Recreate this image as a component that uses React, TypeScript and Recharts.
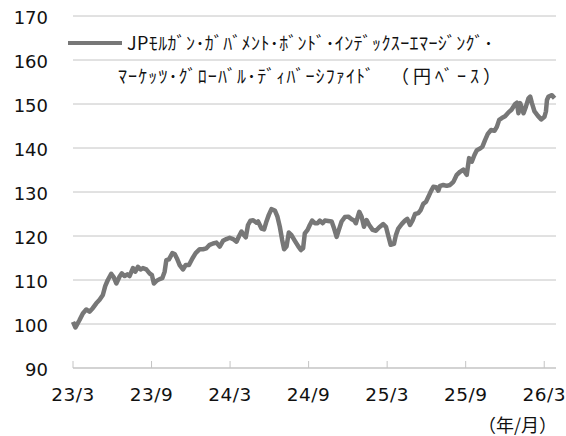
import { CartesianGrid, Line, LineChart, XAxis, YAxis } from "recharts";

// months since 2023/3
const months = [
  0, 0.19, 0.5, 0.75, 1.01, 1.26, 1.51, 1.78, 2.03, 2.28, 2.46, 2.66, 2.92, 3.12, 3.31, 3.56, 3.73, 3.94,
  4.15, 4.32, 4.58, 4.76, 4.96, 5.16, 5.34, 5.6, 5.85, 6.03, 6.18, 6.37, 6.62, 6.82, 7.0, 7.13, 7.33, 7.59,
  7.77, 7.94, 8.15, 8.4, 8.61, 8.86, 9.12, 9.37, 9.68, 9.93, 10.19, 10.44, 10.7, 10.96, 11.21, 11.46, 11.72,
  11.97, 12.23, 12.49, 12.69, 12.87, 13.05, 13.2, 13.37, 13.56, 13.76, 14.02, 14.14, 14.4, 14.6, 14.78,
  14.96, 15.16, 15.42, 15.62, 15.8, 15.98, 16.13, 16.31, 16.49, 16.69, 16.95, 17.2, 17.41, 17.58, 17.71,
  17.92, 18.09, 18.27, 18.48, 18.68, 18.86, 19.07, 19.24, 19.5, 19.76, 19.95, 20.14, 20.31, 20.52, 20.77,
  21.03, 21.29, 21.48, 21.61, 21.87, 22.05, 22.23, 22.43, 22.63, 22.89, 23.14, 23.4, 23.7, 23.91, 24.09,
  24.27, 24.52, 24.67, 24.85, 25.11, 25.36, 25.54, 25.75, 25.95, 26.13, 26.38, 26.56, 26.76, 26.97, 27.15,
  27.33, 27.53, 27.74, 27.91, 28.04, 28.29, 28.55, 28.81, 29.06, 29.32, 29.57, 29.82, 30.08, 30.26, 30.47,
  30.67, 30.85, 31.1, 31.28, 31.48, 31.69, 31.94, 32.2, 32.38, 32.56, 32.76, 33.01, 33.27, 33.5, 33.78,
  33.91, 34.03, 34.16, 34.29, 34.42, 34.6, 34.8, 34.93, 35.06, 35.26, 35.52, 35.77, 36.02, 36.13, 36.21,
  36.33, 36.59, 36.79,
];

const index = [
  100.5, 99.2, 100.9, 102.4, 103.3, 102.8, 103.6, 104.7, 105.5, 106.6, 108.6, 110, 111.4, 110.6, 109.2,
  110.8, 111.5, 110.9, 111.3, 110.9, 112.7, 111.9, 113, 112.4, 112.7, 112.4, 111.5, 111.1, 109.2, 109.8,
  110.2, 110.4, 111.9, 114.5, 114.7, 116.1, 115.9, 114.9, 113.4, 112.4, 113.4, 113.4, 114.9, 116.1, 117,
  117, 117.2, 118, 118.3, 118.5, 117.6, 118.9, 119.3, 119.6, 119.3, 118.7, 120, 121, 120.2, 119.7, 122.5,
  123.5, 123.6, 123, 123.3, 121.7, 121.5, 123.3, 124.8, 126.1, 125.8, 124.4, 122.1, 119.1, 117, 117.6,
  120.8, 120.2, 118.9, 117.7, 116.8, 117.2, 120.6, 121.4, 122.5, 123.5, 122.9, 122.9, 123.5, 122.9, 123.5,
  123.4, 123.3, 121.7, 119.8, 121.4, 123.3, 124.3, 124.4, 123.8, 123.5, 122.9, 125.5, 124.4, 122.1, 123.6,
  122.5, 121.4, 121.2, 122, 122.7, 122.1, 120, 118, 118.2, 120.2, 121.7, 122.7, 123.5, 123.9, 122.5, 123.6,
  125, 125.2, 125.9, 127.3, 127.8, 128.9, 130.1, 131.2, 131.1, 130.3, 131.4, 131.6, 131.4, 131.6, 132.3,
  133.9, 134.6, 135.1, 133.9, 137.7, 136.9, 138.4, 139.5, 139.9, 140.3, 141.8, 143.2, 144.1, 143.9, 144.8,
  146.4, 146.8, 147.2, 148.1, 148.7, 150, 150.3, 147.9, 150.2, 149.1, 147.9, 149.4, 151.3, 151.7, 150.2,
  148.3, 147.3, 146.5, 147.1, 148.3, 150.9, 151.7, 152, 151.3,
];

const xTicks = [0, 6, 12, 18, 24, 30, 36];
const xLabels = ["23/3", "23/9", "24/3", "24/9", "25/3", "25/9", "26/3"];
const yTicks = [90, 100, 110, 120, 130, 140, 150, 160, 170];

const seriesName = "JPﾓﾙｶﾞﾝ･ｶﾞﾊﾞﾒﾝﾄ･ﾎﾞﾝﾄﾞ･ｲﾝﾃﾞｯｸｽｰｴﾏｰｼﾞﾝｸﾞ･";
const seriesName2 = "ﾏｰｹｯﾂ･ｸﾞﾛｰﾊﾞﾙ･ﾃﾞｨﾊﾞｰｼﾌｧｲﾄﾞ";
const seriesName3 = "（円ﾍﾞｰｽ）";

const data = months.map((t, i) => ({ t, v: index[i] }));

const LINE = "#777777";
const GRID = "#c4c4c4";
const NUM_FONT = "'DejaVu Sans', Verdana, sans-serif";
const JP_FONT = "'Noto Sans CJK JP', sans-serif";

function XTick({ x, y, payload }: { x?: number; y?: number; payload?: { value: number; index: number } }) {
  if (x == null || y == null || !payload) return null;
  const axisY = y - 26;
  return (
    <g>
      <line x1={x} x2={x} y1={axisY} y2={axisY - 7} stroke={GRID} strokeWidth={1} />
      <text
        x={x}
        y={y}
        textAnchor="middle"
        dy="0.36em"
        fill="#111"
        fontSize={18.5}
        letterSpacing={0.5}
        fontFamily={NUM_FONT}
      >
        {xLabels[xTicks.indexOf(payload.value)]}
      </text>
    </g>
  );
}

export default function App() {
  return (
    <div style={{ position: "absolute", left: 0, top: 0, width: 566, height: 436, background: "#fff" }}>
      <LineChart width={566} height={436} data={data} margin={{ top: 16, right: 10, bottom: 0, left: 0 }}>
        <CartesianGrid stroke={GRID} vertical={false} horizontalValues={yTicks.slice(1)} />
        <XAxis
          dataKey="t"
          type="number"
          domain={[0, 36.9]}
          ticks={xTicks}
          interval={0}
          height={68}
          tickSize={0}
          tickMargin={26}
          tickLine={false}
          axisLine={{ stroke: GRID, strokeWidth: 1.5 }}
          tick={<XTick />}
        />
        <YAxis
          type="number"
          domain={[90, 170]}
          ticks={yTicks}
          interval={0}
          width={73}
          axisLine={false}
          tickLine={false}
          tickSize={6}
          tickMargin={19}
          tick={{ fill: "#111", fontSize: 18, fontFamily: NUM_FONT, dy: 2 }}
        />
        <Line
          type="linear"
          dataKey="v"
          stroke={LINE}
          strokeWidth={4.5}
          dot={false}
          isAnimationActive={false}
          strokeLinejoin="round"
        />
      </LineChart>
      <div
        style={{
          position: "absolute",
          left: 68,
          top: 26,
          fontFamily: JP_FONT,
          fontSize: 18,
          letterSpacing: 0.4,
          color: "#111",
          lineHeight: "33px",
          whiteSpace: "nowrap",
        }}
      >
        <div style={{ display: "flex", alignItems: "center" }}>
          <span style={{ display: "inline-block", width: 54, height: 4, background: LINE, marginRight: 5 }} />
          <span>{seriesName}</span>
        </div>
        <div style={{ paddingLeft: 50, letterSpacing: 1.1 }}>
          {seriesName2}
          <span style={{ marginLeft: 16, letterSpacing: 4 }}>{seriesName3}</span>
        </div>
      </div>
      <div
        style={{
          position: "absolute",
          left: 478,
          top: 415,
          fontFamily: JP_FONT,
          fontSize: 18,
          lineHeight: "19px",
          color: "#111",
          whiteSpace: "nowrap",
        }}
      >
        （年/月）
      </div>
    </div>
  );
}
